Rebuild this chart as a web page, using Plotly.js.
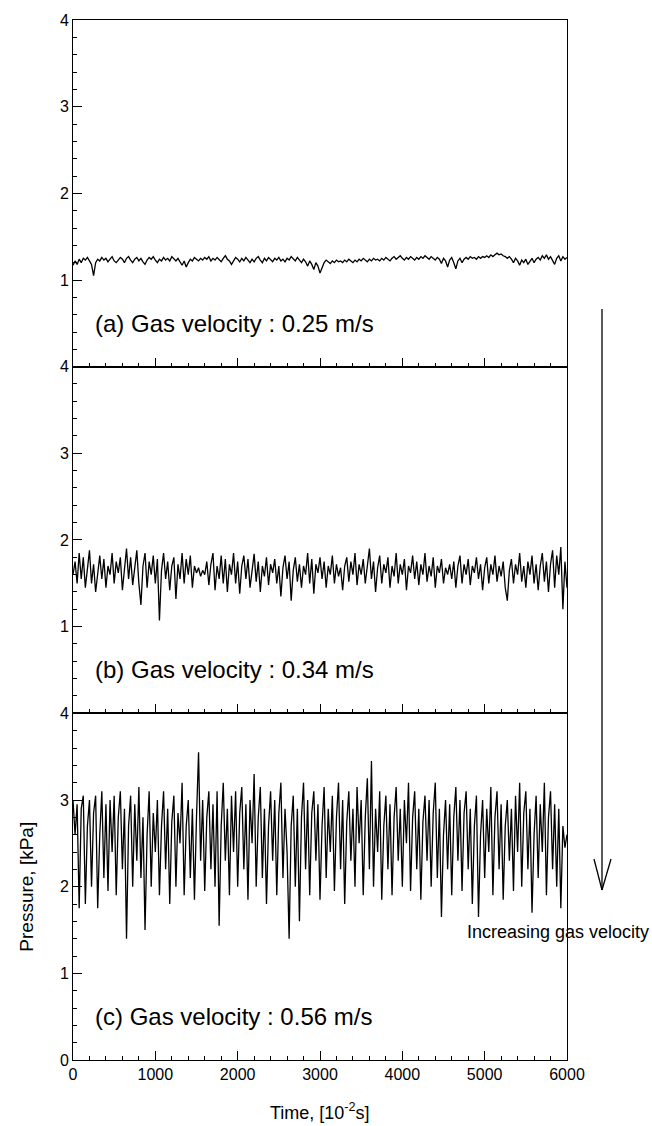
<!DOCTYPE html>
<html>
<head>
<meta charset="utf-8">
<script src="https://cdn.plot.ly/plotly-3.0.1.min.js"></script>
<style>html,body{margin:0;padding:0;background:#fff;}#chart{width:652px;height:1126px;}</style>
</head>
<body>
<div id="chart"></div>
<script>
// Time span of each record, [10^-2 s]
const timeStart = 0;
const timeEnd = 6000;

// (a) Gas velocity 0.25 m/s — pressure, kPa (sampled every 25 x 10^-2 s)
const pressureA = [1.17,1.22,1.18,1.24,1.2,1.25,1.23,1.26,1.22,1.18,1.05,1.2,1.24,1.22,1.26,1.23,1.25,1.21,1.24,1.27,
1.22,1.2,1.23,1.26,1.24,1.2,1.25,1.27,1.23,1.2,1.24,1.26,1.22,1.25,1.21,1.18,1.23,1.26,1.24,1.27,
1.23,1.2,1.24,1.22,1.26,1.23,1.25,1.22,1.27,1.24,1.22,1.25,1.21,1.17,1.22,1.15,1.2,1.24,1.22,1.26,
1.24,1.22,1.25,1.23,1.26,1.24,1.27,1.22,1.25,1.23,1.26,1.24,1.21,1.25,1.28,1.24,1.22,1.18,1.23,1.26,
1.24,1.21,1.25,1.22,1.26,1.23,1.2,1.24,1.21,1.25,1.27,1.23,1.2,1.25,1.22,1.26,1.24,1.21,1.25,1.23,
1.26,1.22,1.24,1.21,1.25,1.23,1.27,1.24,1.22,1.26,1.23,1.2,1.24,1.21,1.16,1.22,1.18,1.12,1.2,1.16,
1.08,1.15,1.2,1.23,1.21,1.19,1.22,1.2,1.23,1.21,1.22,1.2,1.23,1.21,1.24,1.22,1.2,1.23,1.21,1.24,
1.22,1.25,1.23,1.21,1.24,1.22,1.25,1.23,1.24,1.22,1.25,1.23,1.26,1.24,1.22,1.25,1.27,1.24,1.26,1.28,
1.25,1.23,1.26,1.24,1.27,1.25,1.23,1.26,1.24,1.27,1.25,1.28,1.26,1.24,1.27,1.25,1.23,1.26,1.24,1.19,
1.25,1.22,1.15,1.23,1.26,1.2,1.13,1.22,1.25,1.2,1.24,1.26,1.24,1.27,1.25,1.26,1.24,1.27,1.25,1.27,
1.26,1.28,1.26,1.29,1.27,1.29,1.31,1.29,1.3,1.28,1.27,1.25,1.27,1.24,1.2,1.25,1.22,1.17,1.23,1.2,
1.24,1.18,1.22,1.25,1.2,1.24,1.26,1.23,1.28,1.25,1.29,1.24,1.27,1.22,1.18,1.25,1.28,1.22,1.27,1.24,1.26];

// (b) Gas velocity 0.34 m/s
const pressureB = [1.6,1.75,1.5,1.85,1.55,1.8,1.45,1.7,1.88,1.5,1.72,1.4,1.65,1.82,1.55,1.78,1.45,1.7,1.6,1.85,
1.5,1.75,1.62,1.8,1.42,1.7,1.9,1.55,1.8,1.48,1.72,1.88,1.5,1.25,1.7,1.85,1.45,1.75,1.6,1.82,
1.5,1.78,1.07,1.65,1.85,1.55,1.75,1.42,1.7,1.8,1.32,1.72,1.55,1.85,1.5,1.78,1.6,1.82,1.45,1.7,
1.62,1.68,1.58,1.65,1.6,1.75,1.48,1.72,1.85,1.42,1.7,1.55,1.82,1.5,1.78,1.4,1.72,1.6,1.85,1.5,
1.75,1.38,1.7,1.82,1.55,1.78,1.45,1.68,1.84,1.52,1.75,1.4,1.7,1.58,1.8,1.48,1.72,1.62,1.78,1.5,
1.7,1.35,1.68,1.82,1.55,1.75,1.3,1.65,1.8,1.52,1.72,1.45,1.7,1.6,1.85,1.5,1.78,1.38,1.72,1.62,
1.8,1.55,1.75,1.45,1.7,1.6,1.82,1.5,1.72,1.58,1.68,1.42,1.7,1.8,1.52,1.75,1.6,1.85,1.48,1.72,
1.6,1.78,1.5,1.7,1.9,1.55,1.75,1.4,1.68,1.82,1.5,1.72,1.62,1.8,1.45,1.7,1.58,1.85,1.5,1.72,
1.6,1.78,1.42,1.7,1.62,1.82,1.55,1.75,1.48,1.72,1.6,1.85,1.52,1.7,1.58,1.8,1.45,1.7,1.62,1.78,
1.5,1.68,1.6,1.72,1.55,1.75,1.45,1.7,1.82,1.5,1.72,1.6,1.78,1.48,1.7,1.62,1.8,1.55,1.72,1.42,
1.68,1.8,1.5,1.72,1.6,1.82,1.52,1.7,1.58,1.75,1.45,1.3,1.65,1.78,1.5,1.72,1.6,1.85,1.52,1.7,
1.45,1.75,1.6,1.82,1.5,1.72,1.42,1.7,1.85,1.52,1.75,1.4,1.72,1.88,1.45,1.82,1.6,1.92,1.2,1.75,1.45];

// (c) Gas velocity 0.56 m/s
const pressureC = [3.0,2.6,2.95,1.75,2.9,3.05,1.8,2.7,3.0,2.0,2.85,3.05,1.75,2.6,3.1,2.1,2.95,1.95,3.0,2.4,
3.05,1.9,2.8,3.1,2.2,2.9,1.4,2.7,3.05,2.0,2.95,2.3,3.15,2.1,2.8,1.5,2.6,3.1,2.0,2.85,
2.4,3.0,1.9,2.7,3.1,2.2,2.9,1.8,2.75,3.05,2.0,2.85,2.5,3.2,1.9,2.7,3.0,2.1,2.9,1.85,
2.8,3.55,2.3,3.0,1.95,2.8,3.1,2.2,2.95,2.0,3.1,1.55,2.7,3.2,2.3,2.9,1.9,3.05,2.4,3.1,
2.0,2.85,3.15,2.2,2.95,1.85,3.0,2.5,3.3,2.0,2.8,3.15,2.1,2.9,1.8,2.7,3.1,2.3,3.0,1.9,
2.85,3.2,2.1,2.9,2.4,1.4,2.7,3.05,2.0,2.9,1.6,2.8,3.2,2.2,3.0,1.9,2.85,3.1,2.3,2.95,
1.85,2.7,3.15,2.1,2.9,2.4,3.05,1.95,2.8,3.2,2.2,3.0,1.8,2.75,3.1,2.3,2.9,2.0,3.15,2.5,
3.0,1.9,2.8,3.25,2.2,3.45,2.0,2.9,2.4,3.1,1.85,2.7,3.05,2.2,2.95,1.9,2.8,3.15,2.3,2.9,
2.0,3.0,2.5,3.2,1.95,2.8,3.1,2.2,2.9,1.85,2.75,3.05,2.3,3.0,2.0,2.85,3.2,2.1,2.9,1.65,
2.6,3.0,2.2,2.95,1.9,2.8,3.15,2.3,3.0,1.95,2.85,3.1,2.2,2.9,1.8,2.7,3.05,1.65,2.6,3.0,
2.1,2.9,2.4,3.15,1.9,2.8,3.1,2.2,2.95,1.85,2.7,3.0,2.3,2.9,1.95,3.05,2.4,3.2,2.0,2.85,
3.1,2.2,2.9,1.7,2.6,3.05,2.1,2.95,2.4,3.2,1.9,2.8,3.1,2.2,2.95,2.0,2.9,1.75,2.7,2.45,2.6];

const panelLabels = ['(a) Gas velocity : 0.25 m/s', '(b) Gas velocity : 0.34 m/s', '(c) Gas velocity : 0.56 m/s'];
const xTickVals = [0,1000,2000,3000,4000,5000,6000];
const yTickVals = [0,1,2,3,4];

function timesFor(arr){
  const n = arr.length;
  return arr.map((_, i) => timeStart + i * (timeEnd - timeStart) / (n - 1));
}

const FONT = 'Liberation Sans, Arial, sans-serif';
const lineStyle = {color:'#000', width:1.3};

const traces = [
  {x: timesFor(pressureA), y: pressureA, xaxis:'x3', yaxis:'y3', mode:'lines', line:lineStyle, hoverinfo:'skip'},
  {x: timesFor(pressureB), y: pressureB, xaxis:'x2', yaxis:'y2', mode:'lines', line:lineStyle, hoverinfo:'skip'},
  {x: timesFor(pressureC), y: pressureC, xaxis:'x', yaxis:'y', mode:'lines', line:lineStyle, hoverinfo:'skip'}
];

function xAx(anchor, showLabels){
  return {
    anchor: anchor, range:[timeStart, timeEnd], tickvals: xTickVals,
    showticklabels: showLabels, ticks:'inside', ticklen:9, tickwidth:1, tickcolor:'#000',
    minor:{dtick:200, tick0:0, ticks:'inside', ticklen:4, tickcolor:'#000', showgrid:false},
    showline:true, linecolor:'#000', linewidth:1, mirror:true,
    showgrid:false, zeroline:false,
    tickfont:{family:FONT, size:16, color:'#000'}
  };
}
function yAx(domain, anchor, vals){
  return {
    anchor: anchor, domain: domain, range:[0,4], tickvals: vals,
    ticks:'inside', ticklen:9, tickwidth:1, tickcolor:'#000',
    minor:{dtick:0.2, tick0:0, ticks:'inside', ticklen:4, tickcolor:'#000', showgrid:false},
    showline:true, linecolor:'#000', linewidth:1, mirror:true,
    showgrid:false, zeroline:false,
    tickfont:{family:FONT, size:16, color:'#000'}
  };
}

const L = 73, R = 567, T = 20, B = 1060, H = 1040, W = R - L;
const px2x = p => (p - L) / W;
const px2y = p => (B - p) / H;

const annotations = [
  {text: panelLabels[0], xref:'paper', x: px2x(93), xanchor:'left', yref:'y3', y:0.5, yanchor:'middle', showarrow:false, font:{family:FONT, size:24, color:'#000'}},
  {text: panelLabels[1], xref:'paper', x: px2x(93), xanchor:'left', yref:'y2', y:0.5, yanchor:'middle', showarrow:false, font:{family:FONT, size:24, color:'#000'}},
  {text: panelLabels[2], xref:'paper', x: px2x(93), xanchor:'left', yref:'y', y:0.5, yanchor:'middle', showarrow:false, font:{family:FONT, size:24, color:'#000'}},
  {text:'Pressure, [kPa]', xref:'paper', x: px2x(27), xanchor:'center', yref:'y', y:2, yanchor:'middle', textangle:-90, showarrow:false, font:{family:FONT, size:19, color:'#000'}},
  {text:'Time, [10<sup>-2</sup>s]', xref:'paper', x:0.5, xanchor:'center', yref:'paper', y: px2y(1111), yanchor:'middle', showarrow:false, font:{family:FONT, size:18, color:'#000'}},
  {text:'Increasing gas velocity', xref:'paper', x: px2x(651), xanchor:'right', yref:'paper', y: px2y(932), yanchor:'middle', showarrow:false, font:{family:FONT, size:18, color:'#000'}}
];

const shapes = [
  {type:'line', xref:'paper', yref:'paper', x0:px2x(602), x1:px2x(602), y0:px2y(309), y1:px2y(890), line:{color:'#000', width:1.3}},
  {type:'line', xref:'paper', yref:'paper', x0:px2x(594), x1:px2x(602), y0:px2y(859), y1:px2y(890), line:{color:'#000', width:1.3}},
  {type:'line', xref:'paper', yref:'paper', x0:px2x(611), x1:px2x(602), y0:px2y(859), y1:px2y(890), line:{color:'#000', width:1.3}}
];

const layout = {
  width:652, height:1126,
  margin:{l:L, r:652-R, t:T, b:1126-B},
  paper_bgcolor:'#fff', plot_bgcolor:'#fff',
  showlegend:false,
  font:{family:FONT, color:'#000'},
  xaxis: xAx('y', true),
  xaxis2: Object.assign(xAx('y2', false), {matches:'x'}),
  xaxis3: Object.assign(xAx('y3', false), {matches:'x'}),
  yaxis: yAx([0, 1/3], 'x', yTickVals),
  yaxis2: yAx([1/3, 2/3], 'x2', [1,2,3,4]),
  yaxis3: yAx([2/3, 1], 'x3', [1,2,3,4]),
  annotations: annotations,
  shapes: shapes
};

Plotly.newPlot('chart', traces, layout, {staticPlot:true, displayModeBar:false});
</script>
</body>
</html>
